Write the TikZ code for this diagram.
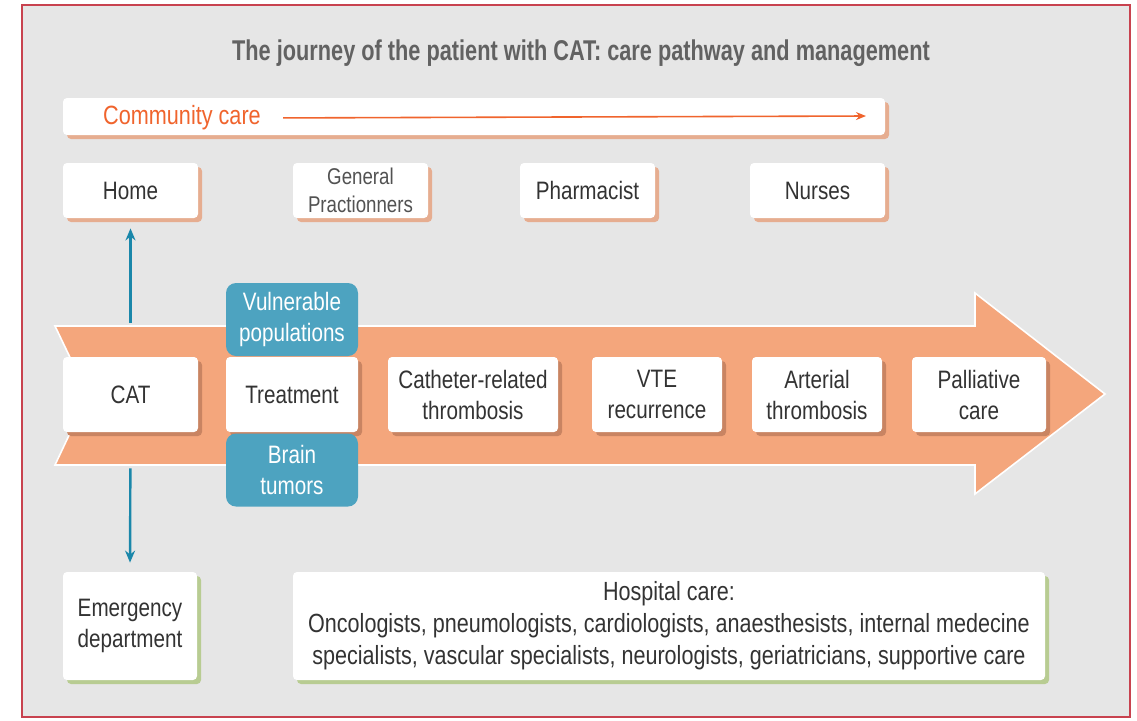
\documentclass[tikz,border=0pt]{standalone}
\usepackage{fontspec}
\setmainfont{Liberation Sans}[FakeStretch=0.82]
\newfontfamily\titlefont{Liberation Sans}[FakeStretch=0.76]
\usetikzlibrary{arrows.meta,shadows}
\definecolor{bggray}{HTML}{E6E6E6}
\definecolor{framered}{HTML}{C8424F}
\definecolor{titlegray}{HTML}{626262}
\definecolor{commorange}{HTML}{F0642D}
\definecolor{bandorange}{HTML}{F4A67C}
\definecolor{shtan}{HTML}{E6AD90}
\definecolor{shbrown}{HTML}{C98462}
\definecolor{shgreen}{HTML}{B8CC92}
\definecolor{bluebox}{HTML}{4DA3C0}
\definecolor{bluearrow}{HTML}{1A87AA}
\definecolor{txt}{HTML}{333333}
\tikzset{
  boxbase/.style={fill=white, rounded corners=2pt, align=center, text=txt,
    font=\fontsize{12.6}{15.5}\selectfont, inner sep=0pt},
  topbox/.style={boxbase, minimum width=67.5pt, minimum height=27.5pt,
    drop shadow={shadow xshift=2pt, shadow yshift=-2pt, fill=shtan, opacity=1}},
  midbox/.style={boxbase, minimum height=37.5pt,
    drop shadow={shadow xshift=2pt, shadow yshift=-2pt, fill=shbrown, opacity=1}},
  botbox/.style={boxbase, minimum height=54pt,
    drop shadow={shadow xshift=2pt, shadow yshift=-2pt, fill=shgreen, opacity=1}},
  bluebx/.style={fill=bluebox, rounded corners=5pt, align=center, text=white,
    font=\fontsize{12.6}{15.5}\selectfont, inner sep=0pt, minimum width=66pt, minimum height=36.5pt},
  bluearr/.style={draw=bluearrow, line width=1.2pt, -{Stealth[length=6pt,width=5pt]}},
  commarr/.style={draw=commorange, line width=0.8pt, -{Stealth[length=5pt,width=4pt]}}
}
\begin{document}
\begin{tikzpicture}[x=0.5pt,y=-0.5pt]
\useasboundingbox (0,0) rectangle (1137,720);
\fill[white] (0,0) rectangle (1137,720);
\draw[framered, fill=bggray, line width=1pt] (22,5) rectangle (1130,717);

\node[font=\titlefont\bfseries\fontsize{14.3}{17}\selectfont, text=titlegray] (title) at (581,53)
  {The journey of the patient with CAT: care pathway and management};

% community care bar
\node[topbox, minimum width=411pt, minimum height=18.5pt] (comm) at (474,116.5) {};
\node[font=\fontsize{13.2}{15}\selectfont, text=commorange, inner sep=0pt] (commtxt) at (182,118) {Community care};
\coordinate (commend) at (866,116);
\draw[commarr, shorten <=11pt] (commtxt.east) -- (commend);

% top row
\node[topbox] (home) at (130.5,190.5) {Home};
\node[topbox, font=\fontsize{11.4}{13.8}\selectfont, text=txt!85] (gp) at (360.5,190.5) {General\\Practionners};
\node[topbox] (pharm) at (587.5,190.5) {Pharmacist};
\node[topbox] (nurses) at (817.5,190.5) {Nurses};

% big arrow
\fill[bandorange, draw=white, line width=0.8pt] (55,326) -- (975,326) -- (975,293) -- (1105,394)
  -- (975,494) -- (975,465) -- (55,465) -- (88,395) -- cycle;

% middle row
\node[midbox, minimum width=67.5pt] (cat) at (130.5,394.5) {CAT};
\node[midbox, minimum width=66pt] (treat) at (292,394.5) {Treatment};
\node[midbox, minimum width=85pt] (cath) at (473,394.5) {Catheter-related\\thrombosis};
\node[midbox, minimum width=65pt] (vte) at (657,394.5) {VTE\\recurrence};
\node[midbox, minimum width=65pt] (art) at (817,394.5) {Arterial\\thrombosis};
\node[midbox, minimum width=67pt] (pall) at (979,394.5) {Palliative\\care};

\node[bluebx] (vuln) at (292,319.5) {Vulnerable\\populations};
\node[bluebx] (brain) at (292,470) {Brain\\tumors};

% bottom row
\node[botbox, minimum width=67pt] (emerg) at (130,626) {Emergency\\department};
\node[botbox, minimum width=376pt, font=\fontsize{13.15}{16}\selectfont] (hosp) at (669,626)
  {Hospital care:\\Oncologists, pneumologists, cardiologists, anaesthesists, internal medecine\\specialists, vascular specialists, neurologists, geriatricians, supportive care};

% blue arrows
\draw[bluearr, shorten <=17pt, shorten >=5pt] (cat.north) -- (home.south);
\draw[bluearr, shorten <=18pt, shorten >=4.5pt] (cat.south) -- (emerg.north);
\end{tikzpicture}
\end{document}
